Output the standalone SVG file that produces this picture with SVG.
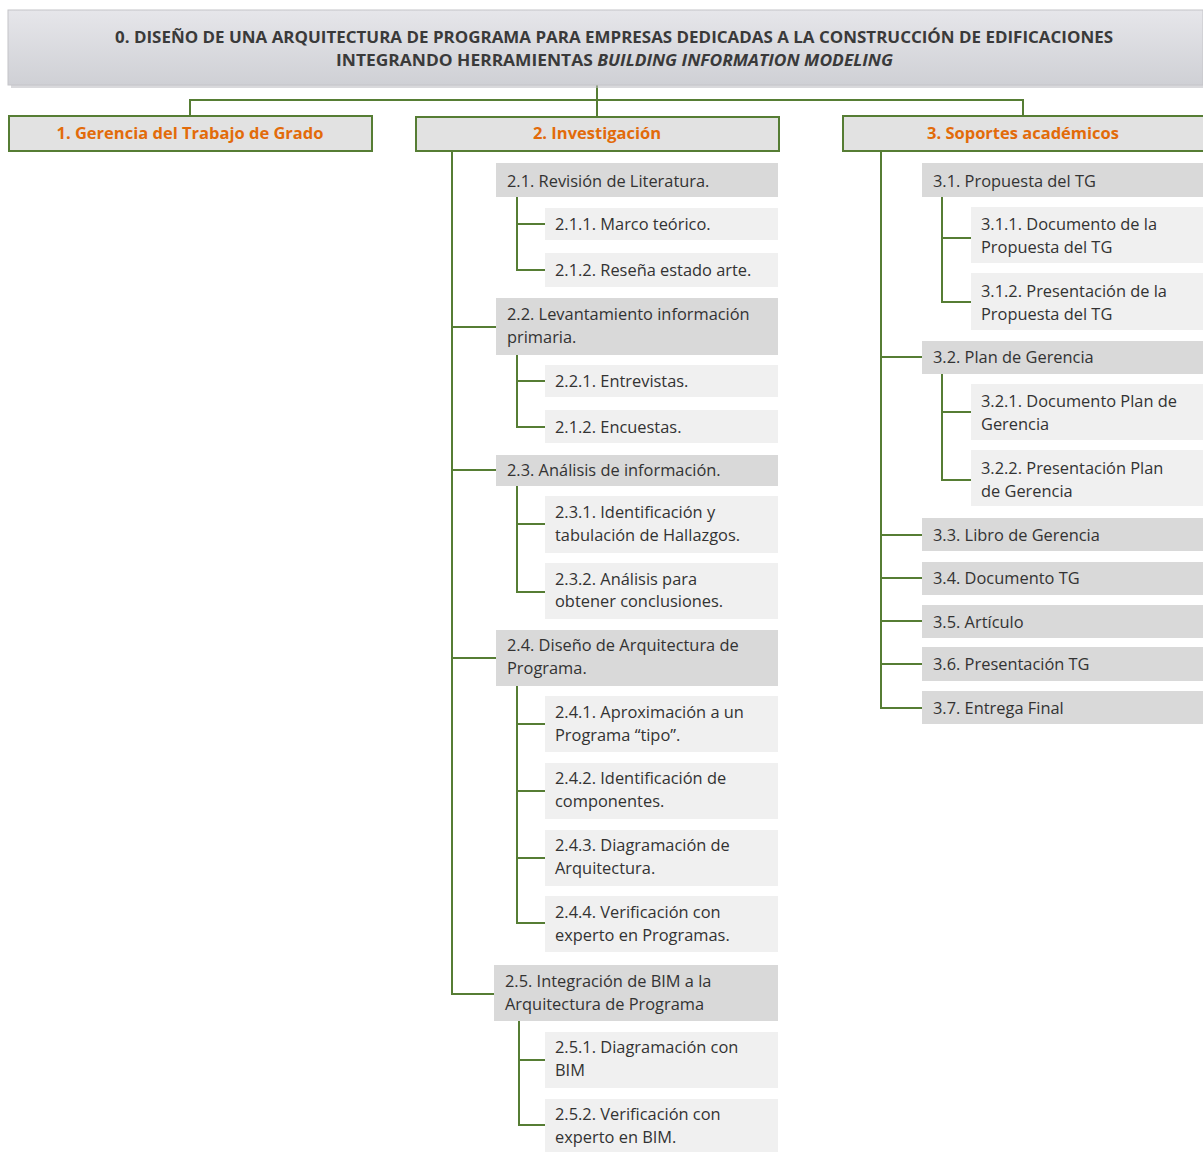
<svg xmlns="http://www.w3.org/2000/svg" width="1203" height="1152" viewBox="0 0 1203 1152">
<style>
.t{font-family:"Open Sans","Liberation Sans",Arial,sans-serif;font-size:16.4px;fill:#333}
.h{font-family:"Open Sans","Liberation Sans",Arial,sans-serif;font-size:15.5px;font-weight:bold;fill:#3a3a3a}
.l1t{font-family:"Open Sans","Liberation Sans",Arial,sans-serif;font-size:16.5px;font-weight:bold;fill:#e26b0a}
.l1{fill:#e2e2e2;stroke:#567d34;stroke-width:2}
.l2{fill:#d9d9d9}
.l3{fill:#f0f0f0}
.c{fill:none;stroke:#567d34;stroke-width:2}
</style>
<defs>
<linearGradient id="hg" x1="0" y1="0" x2="0" y2="1">
<stop offset="0" stop-color="#e6e6ea"/>
<stop offset="1" stop-color="#cfd0d5"/>
</linearGradient>
</defs>
<rect width="1203" height="1152" fill="#fff"/>

<g id="connectors">
<path class="c" d="M597 85 V100 M190 116 V100 H1023 V116 M597 100 V117"/>
<path class="c" d="M452 151 V994 H496 M452 327 H496 M452 470 H496 M452 658 H496"/>
<path class="c" d="M517 197 V270 H545 M517 224 H545"/>
<path class="c" d="M517 355 V427 H545 M517 381 H545"/>
<path class="c" d="M517 486 V592 H545 M517 524 H545"/>
<path class="c" d="M517 686 V923 H545 M517 724 H545 M517 791 H545 M517 858 H545"/>
<path class="c" d="M519 1021 V1125 H545 M519 1060 H545"/>
<path class="c" d="M881 151 V708 H922 M881 357 H922 M881 535 H922 M881 578 H922 M881 621 H922 M881 664 H922"/>
<path class="c" d="M942 197 V302 H971 M942 238 H971"/>
<path class="c" d="M942 374 V480 H971 M942 412 H971"/>
</g>

<g id="n0">
<rect x="11" y="13" width="1195" height="75" fill="#bfbfc4" opacity="0.6"/>
<rect x="8" y="10" width="1195" height="75" fill="url(#hg)" stroke="#c4c4c8" stroke-width="1"/>
<text class="h" x="115" y="43" textLength="998" lengthAdjust="spacingAndGlyphs">0. DISEÑO DE UNA ARQUITECTURA DE PROGRAMA PARA EMPRESAS DEDICADAS A LA CONSTRUCCIÓN DE EDIFICACIONES</text>
<text class="h" x="336" y="66" textLength="557" lengthAdjust="spacingAndGlyphs">INTEGRANDO HERRAMIENTAS <tspan font-style="italic">BUILDING INFORMATION MODELING</tspan></text>
</g>

<g id="n1"><rect class="l1" x="9" y="116" width="363" height="35"/><text class="l1t" x="190" y="139" text-anchor="middle">1. Gerencia del Trabajo de Grado</text></g>
<g id="n2"><rect class="l1" x="416" y="117" width="363" height="34"/><text class="l1t" x="597" y="139" text-anchor="middle">2. Investigación</text></g>
<g id="n3"><rect class="l1" x="843" y="116" width="362" height="35"/><text class="l1t" x="1023" y="139" text-anchor="middle">3. Soportes académicos</text></g>

<g id="n2_1"><rect class="l2" x="496" y="163" width="282" height="34"/><text class="t" x="507" y="187">2.1. Revisión de Literatura.</text></g>
<g id="n2_1_1"><rect class="l3" x="545" y="208" width="233" height="32"/><text class="t" x="555" y="230">2.1.1. Marco teórico.</text></g>
<g id="n2_1_2"><rect class="l3" x="545" y="253" width="233" height="34"/><text class="t" x="555" y="276">2.1.2. Reseña estado arte.</text></g>

<g id="n2_2"><rect class="l2" x="496" y="298" width="282" height="57"/><text class="t" x="507" y="320">2.2. Levantamiento información</text><text class="t" x="507" y="343">primaria.</text></g>
<g id="n2_2_1"><rect class="l3" x="545" y="365" width="233" height="32"/><text class="t" x="555" y="387">2.2.1. Entrevistas.</text></g>
<g id="n2_2_2"><rect class="l3" x="545" y="410" width="233" height="33"/><text class="t" x="555" y="433">2.1.2. Encuestas.</text></g>

<g id="n2_3"><rect class="l2" x="496" y="455" width="282" height="31"/><text class="t" x="507" y="476">2.3. Análisis de información.</text></g>
<g id="n2_3_1"><rect class="l3" x="545" y="496" width="233" height="57"/><text class="t" x="555" y="518">2.3.1. Identificación y</text><text class="t" x="555" y="541">tabulación de Hallazgos.</text></g>
<g id="n2_3_2"><rect class="l3" x="545" y="563" width="233" height="56"/><text class="t" x="555" y="585">2.3.2. Análisis para</text><text class="t" x="555" y="607">obtener conclusiones.</text></g>

<g id="n2_4"><rect class="l2" x="496" y="630" width="282" height="56"/><text class="t" x="507" y="651">2.4. Diseño de Arquitectura de</text><text class="t" x="507" y="674">Programa.</text></g>
<g id="n2_4_1"><rect class="l3" x="545" y="696" width="233" height="56"/><text class="t" x="555" y="718">2.4.1. Aproximación a un</text><text class="t" x="555" y="741">Programa “tipo”.</text></g>
<g id="n2_4_2"><rect class="l3" x="545" y="763" width="233" height="56"/><text class="t" x="555" y="784">2.4.2. Identificación de</text><text class="t" x="555" y="807">componentes.</text></g>
<g id="n2_4_3"><rect class="l3" x="545" y="830" width="233" height="56"/><text class="t" x="555" y="851">2.4.3. Diagramación de</text><text class="t" x="555" y="874">Arquitectura.</text></g>
<g id="n2_4_4"><rect class="l3" x="545" y="896" width="233" height="56"/><text class="t" x="555" y="918">2.4.4. Verificación con</text><text class="t" x="555" y="941">experto en Programas.</text></g>

<g id="n2_5"><rect class="l2" x="494" y="965" width="284" height="56"/><text class="t" x="505" y="987">2.5. Integración de BIM a la</text><text class="t" x="505" y="1010">Arquitectura de Programa</text></g>
<g id="n2_5_1"><rect class="l3" x="545" y="1032" width="233" height="56"/><text class="t" x="555" y="1053">2.5.1. Diagramación con</text><text class="t" x="555" y="1076">BIM</text></g>
<g id="n2_5_2"><rect class="l3" x="545" y="1099" width="233" height="53"/><text class="t" x="555" y="1120">2.5.2. Verificación con</text><text class="t" x="555" y="1143">experto en BIM.</text></g>

<g id="n3_1"><rect class="l2" x="922" y="163" width="281" height="34"/><text class="t" x="933" y="187">3.1. Propuesta del TG</text></g>
<g id="n3_1_1"><rect class="l3" x="971" y="207" width="232" height="56"/><text class="t" x="981" y="230">3.1.1. Documento de la</text><text class="t" x="981" y="253">Propuesta del TG</text></g>
<g id="n3_1_2"><rect class="l3" x="971" y="273" width="232" height="57"/><text class="t" x="981" y="297">3.1.2. Presentación de la</text><text class="t" x="981" y="320">Propuesta del TG</text></g>

<g id="n3_2"><rect class="l2" x="922" y="341" width="281" height="33"/><text class="t" x="933" y="363">3.2. Plan de Gerencia</text></g>
<g id="n3_2_1"><rect class="l3" x="971" y="384" width="232" height="56"/><text class="t" x="981" y="407">3.2.1. Documento Plan de</text><text class="t" x="981" y="430">Gerencia</text></g>
<g id="n3_2_2"><rect class="l3" x="971" y="450" width="232" height="56"/><text class="t" x="981" y="474">3.2.2. Presentación Plan</text><text class="t" x="981" y="497">de Gerencia</text></g>

<g id="n3_3"><rect class="l2" x="922" y="518" width="281" height="33"/><text class="t" x="933" y="541">3.3. Libro de Gerencia</text></g>
<g id="n3_4"><rect class="l2" x="922" y="562" width="281" height="33"/><text class="t" x="933" y="584">3.4. Documento TG</text></g>
<g id="n3_5"><rect class="l2" x="922" y="605" width="281" height="33"/><text class="t" x="933" y="628">3.5. Artículo</text></g>
<g id="n3_6"><rect class="l2" x="922" y="647" width="281" height="34"/><text class="t" x="933" y="670">3.6. Presentación TG</text></g>
<g id="n3_7"><rect class="l2" x="922" y="691" width="281" height="33"/><text class="t" x="933" y="714">3.7. Entrega Final</text></g>
</svg>
